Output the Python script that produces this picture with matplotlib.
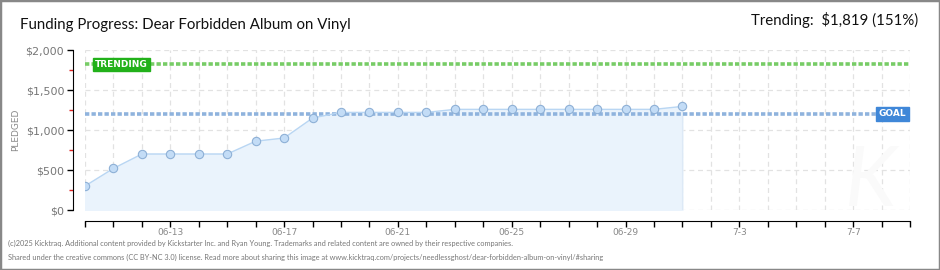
import matplotlib.pyplot as plt
from matplotlib.patches import Rectangle

# data
days = list(range(22))
pledged = [300, 520, 700, 700, 700, 700, 860, 900, 1150, 1220, 1220, 1220, 1220,
           1258, 1258, 1258, 1258, 1258, 1258, 1258, 1258, 1295]
n_days = 30
tick_labels = {3: "06-13", 7: "06-17", 11: "06-21", 15: "06-25", 19: "06-29", 23: "7-3", 27: "7-7"}
goal = 1200
trending = 1819
title = "Funding Progress: Dear Forbidden Album on Vinyl"
trend_text = "Trending:  $1,819 (151%)"
footer = ["(c)2025 Kicktraq. Additional content provided by Kickstarter Inc. and Ryan Young. Trademarks and related content are owned by their respective companies.",
          "Shared under the creative commons (CC BY-NC 3.0) license. Read more about sharing this image at www.kicktraq.com/projects/needlessghost/dear-forbidden-album-on-vinyl/#sharing"]

narrow = ["Lato", "DejaVu Sans"]

W, H = 940, 270
fig = plt.figure(figsize=(W / 100, H / 100), dpi=100)
fig.patches.append(Rectangle((0, 0), 1, 1, transform=fig.transFigure, fill=False,
                             edgecolor="#888888", linewidth=2.5))

ax = fig.add_axes([85 / W, 60 / H, 825 / W, 160 / H])
ax.set_xlim(0, n_days - 1)
ax.set_ylim(0, 2000)

# grid
for d in range(n_days):
    ax.axvline(d, color="#e2e2e2", lw=0.9, ls=(0, (4, 3)), zorder=0)
for v in range(0, 2001, 500):
    ax.axhline(v, color="#e2e2e2", lw=0.9, ls=(0, (4, 3)), zorder=0)

# watermark
ax.text(27.6, 350, "K", fontsize=60, color="#fafafa", ha="center", va="center",
        style="italic", family=narrow, zorder=0)

ax.fill_between(days, pledged, color="#eaf3fc", zorder=1)
ax.plot([days[-1], days[-1]], [0, pledged[-1]], color="#dde9f6", lw=0.8, zorder=1)
ax.plot(days, pledged, color="#b9d6f3", lw=1, zorder=3)
ax.scatter(days, pledged, s=36, color="#c3dcf6", edgecolor="#8eb0d6", lw=0.8, zorder=4)

ax.axhline(goal, color="#8fb3dd", lw=2.6, ls=(0, (1.2, 0.6)), zorder=2)
ax.axhline(trending, color="#77cc66", lw=2.6, ls=(0, (1.2, 0.6)), zorder=2)

ax.text(0.35, trending, "TRENDING", fontsize=6.5, color="white", fontweight="bold",
        ha="left", va="center", zorder=5,
        bbox=dict(boxstyle="square,pad=0.25", fc="#22b11a", ec="#22b11a"))
ax.text(27.9, goal, "GOAL", fontsize=6.5, color="white", fontweight="bold",
        ha="left", va="center", zorder=5,
        bbox=dict(boxstyle="square,pad=0.25", fc="#3f87d8", ec="#3f87d8"))

# axes styling
for s in ["top", "right"]:
    ax.spines[s].set_visible(False)
ax.spines["left"].set_position(("outward", 9))
ax.spines["bottom"].set_position(("outward", 8))
ax.spines["left"].set_bounds(0, 2000)
ax.spines["bottom"].set_bounds(0, n_days - 1)

ax.set_yticks(range(0, 2001, 500))
ax.set_yticklabels(["$0", "$500", "$1,000", "$1,500", "$2,000"])
ax.set_yticks([250, 750, 1250, 1750], minor=True)
ax.tick_params(axis="y", which="major", length=4, width=1, labelsize=8, labelcolor="#777777", pad=2)
ax.tick_params(axis="y", which="minor", length=3, width=1, color="#dd2222")

ax.set_xticks(range(n_days))
ax.set_xticklabels([tick_labels.get(d, "") for d in range(n_days)])
ax.tick_params(axis="x", length=4, width=1, labelsize=6.5, labelcolor="#888888", pad=1)

ax.set_ylabel("PLEDGED", fontsize=6.5, color="#888888")
ax.yaxis.set_label_coords(-65 / 825, 0.5)

fig.text(20 / W, 1 - 25 / H, title, fontsize=10.8, ha="left", va="center",
         color="#111111", family=narrow)
fig.text(918 / W, 1 - 20 / H, trend_text, fontsize=10.8, ha="right", va="center",
         color="#111111", family=narrow)
fig.text(8 / W, 1 - 243 / H, footer[0], fontsize=5.3, ha="left", va="center",
         color="#777777", family=narrow)
fig.text(8 / W, 1 - 257 / H, footer[1], fontsize=5.3, ha="left", va="center",
         color="#777777", family=narrow)

fig.savefig("out.png", dpi=100)
